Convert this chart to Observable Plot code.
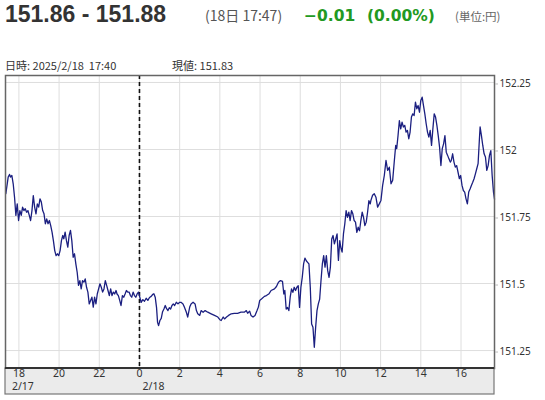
<!DOCTYPE html>
<html><head><meta charset="utf-8">
<script src="https://cdn.jsdelivr.net/npm/d3@7"></script>
<script src="https://cdn.jsdelivr.net/npm/@observablehq/plot@0.6"></script>
<style>
body{margin:0;background:#fff;}
#wrap{width:545px;height:400px;overflow:hidden;}
#head{display:block;}
#chart svg{display:block;}
</style>
</head><body>
<div id="wrap">
<svg id="head" width="545" height="72" xmlns="http://www.w3.org/2000/svg">
  <text x="5" y="21.5" font-family="Liberation Sans" font-weight="bold" font-size="23" fill="#333">151.86 - 151.88</text>
  <text x="205" y="21" font-family="Noto Sans CJK JP" font-size="14" fill="#555">(18日 17:47)</text>
  <text x="304" y="21" font-family="DejaVu Sans" font-weight="bold" font-size="15.5" fill="#229922">−0.01</text>
  <text x="367" y="21" font-family="DejaVu Sans" font-weight="bold" font-size="15.5" fill="#229922">(0.00%)</text>
  <text x="455" y="21" font-family="Noto Sans CJK JP" font-size="11.5" fill="#666">(単位:円)</text>
  <text x="5" y="70" font-family="Noto Sans CJK JP" font-size="11" fill="#333" style="white-space:pre">日時: 2025/2/18  17:40</text>
  <text x="172" y="70" font-family="Noto Sans CJK JP" font-size="11" fill="#333">現値: 151.83</text>
</svg>
<div id="chart"></div>
</div>
<script>
// minutes relative to 2025/2/18 00:00 (negative = 2/17)
const minutes = [
-399,-392,-388,-385,-381,-377,-373,-369,-365,-361,-357,-353,-349,-345,-341,-337,-333,-329,-325,-321,
-317,-313,-309,-305,-301,-297,-293,-289,-285,-281,-277,-273,-269,-265,-261,-257,-253,-249,-245,-241,
-237,-233,-229,-226,-222,-218,-214,-210,-206,-202,-198,-194,-190,-186,-182,-178,-174,-170,-166,-162,
-158,-154,-150,-146,-142,-138,-134,-130,-126,-122,-118,-114,-110,-106,-102,-98,-94,-90,-86,-82,
-78,-74,-70,-67,-63,-59,-55,-51,-47,-43,-39,-35,-31,-27,-23,-19,-15,-11,-7,-3,
1,5,10,15,20,25,30,35,40,43,47,51,54,57,61,65,69,73,77,81,
85,89,93,97,101,105,110,115,120,124,130,134,140,144,150,154,160,166,170,174,
180,184,190,196,204,214,224,234,240,244,250,254,260,266,274,283,293,303,313,319,
323,329,333,339,345,351,355,359,365,373,379,387,393,403,409,415,421,427,431,434,
438,442,446,450,454,458,462,466,470,474,478,482,486,490,494,498,502,506,510,514,
518,522,526,530,534,538,542,546,550,554,558,562,566,570,574,578,582,586,590,594,
598,601,605,609,613,617,621,625,629,633,637,641,645,649,653,657,661,665,669,673,
677,681,685,689,691,696,701,706,711,716,721,726,731,736,741,746,751,756,761,765,
768,772,776,780,784,788,792,796,800,804,808,812,816,820,824,828,832,836,840,844,
848,852,856,860,864,868,872,876,880,884,888,892,896,900,904,908,912,916,920,924,
928,931,935,939,943,947,951,955,959,963,967,971,975,979,983,987,991,995,999,1003,
1007,1011,1015,1017,1021,1025,1029,1033,1037,1041,1045,1049,1053,1057,1060
];
const prices = [
151.835,151.897,151.907,151.897,151.903,151.872,151.822,151.754,151.797,151.735,151.772,151.754,151.785,151.772,151.779,151.766,151.772,151.754,151.735,151.772,
151.828,151.785,151.760,151.797,151.785,151.816,151.804,151.772,151.760,151.723,151.741,151.723,151.735,151.716,151.692,151.660,151.623,151.604,151.611,151.604,
151.623,151.660,151.679,151.667,151.692,151.660,151.636,151.679,151.698,151.660,151.598,151.611,151.573,151.542,151.493,151.511,151.480,151.511,151.505,151.517,
151.486,151.468,151.424,151.437,151.449,151.412,151.449,151.424,151.461,151.480,151.499,151.486,151.468,151.480,151.511,151.493,151.474,151.455,151.480,151.455,
151.468,151.461,151.474,151.461,151.455,151.437,151.418,151.455,151.449,151.461,151.474,151.468,151.468,151.455,151.449,151.468,151.455,151.449,151.461,151.468,
151.449,151.430,151.440,151.434,151.445,151.437,151.448,151.452,151.460,151.462,151.449,151.410,151.355,151.343,151.362,151.370,151.395,151.405,151.418,151.406,
151.399,151.410,151.405,151.418,151.424,151.418,151.430,151.424,151.430,151.430,151.424,151.412,151.393,151.375,151.412,151.424,151.430,151.424,151.399,151.387,
151.381,151.399,151.393,151.399,151.393,151.387,151.381,151.375,151.365,151.362,151.375,151.368,151.375,151.381,151.387,151.389,151.389,151.393,151.393,151.399,
151.389,151.397,151.381,151.375,151.381,151.399,151.412,151.437,151.443,151.452,151.455,151.462,151.474,151.480,151.489,151.505,151.511,151.508,151.461,151.474,
151.405,151.411,151.399,151.449,151.480,151.467,151.486,151.474,151.486,151.492,151.411,151.486,151.523,151.573,151.595,151.585,151.579,151.573,151.486,151.349,
151.337,151.262,151.337,151.399,151.424,151.442,151.511,151.573,151.604,151.561,151.604,151.548,151.523,151.561,151.666,151.679,151.648,151.666,151.685,151.586,
151.660,151.635,151.617,151.685,151.722,151.772,151.747,151.766,151.735,151.772,151.760,151.735,151.729,151.691,151.710,151.697,151.735,151.766,151.747,151.716,
151.729,151.766,151.809,151.797,151.810,151.829,151.835,151.822,151.785,151.797,151.810,151.866,151.903,151.959,151.922,151.934,151.872,151.885,151.959,152.015,
152.003,152.052,152.108,152.077,152.102,152.084,152.090,152.065,152.071,152.040,152.065,152.121,152.133,152.127,152.177,152.152,152.164,152.139,152.183,152.195,
152.164,152.133,152.096,152.065,152.046,152.071,152.015,152.077,152.133,152.121,152.090,152.052,152.009,151.940,152.003,152.021,152.052,151.990,151.978,151.965,
151.953,151.959,151.984,151.953,151.934,151.940,151.916,151.891,151.903,151.866,151.847,151.841,151.816,151.797,151.841,151.853,151.866,151.878,151.891,151.909,
151.928,151.947,152.040,152.084,152.052,152.015,151.984,151.972,151.922,151.940,151.978,151.996,151.903,151.841,151.815
];
const yTicks = [151.25, 151.5, 151.75, 152, 152.25];
const xTickMinutes = [-360,-240,-120,0,120,240,360,480,600,720,840,960];
const xTickLabels = ["18","20","22","0","2","4","6","8","10","12","14","16"];
const dayMinutes = [-360, 0];
const dayLabels = ["2/17", "2/18"];

const base = Date.UTC(2025, 1, 18, 0, 0);
const toDate = m => new Date(base + m * 60000);
const data = minutes.map((m, i) => ({t: toDate(m), v: prices[i]}));
const xTicks = xTickMinutes.map((m, i) => ({t: toDate(m), label: xTickLabels[i]}));
const days = dayMinutes.map((m, i) => ({t: toDate(m), label: dayLabels[i]}));

function band(index, scales, values, dims) {
  const {width, height, marginLeft, marginRight, marginBottom} = dims;
  const g = d3.create("svg:g");
  const x0 = marginLeft, x1 = width - marginRight, y0 = height - marginBottom;
  g.append("rect").attr("x", x0).attr("y", y0).attr("width", x1 - x0).attr("height", 26)
    .attr("fill", "#ebebeb").attr("stroke", "#777").attr("stroke-width", 1.2);
  g.append("line").attr("x1", x0).attr("x2", x1).attr("y1", y0).attr("y2", y0)
    .attr("stroke", "#333").attr("stroke-width", 2);
  return g.node();
}

const chart = Plot.plot({
  width: 545, height: 328,
  marginTop: 3, marginLeft: 5, marginRight: 51, marginBottom: 32,
  x: {type: "utc", domain: [toDate(-400), toDate(1060)], axis: null},
  y: {domain: [151.183, 152.276], axis: null},
  style: {fontFamily: "Noto Sans", fontSize: "10px", color: "#333", background: "#fff", overflow: "visible"},
  marks: [
    Plot.gridY(yTicks, {stroke: "#dedede", strokeOpacity: 1}),
    Plot.gridX(xTicks.map(d => d.t), {stroke: "#dedede", strokeOpacity: 1}),
    Plot.ruleX([toDate(0)], {stroke: "#111", strokeDasharray: "4,3", strokeWidth: 1.6}),
    Plot.line(data, {x: "t", y: "v", stroke: "#1b1f80", strokeWidth: 1.3}),
    Plot.frame({stroke: "#666", strokeWidth: 1.5}),
    band,
    Plot.axisY(yTicks, {anchor: "right", label: null, tickSize: 3, tickPadding: 2, stroke: "#bbb", fill: "#333", dy: 1.5, tickFormat: d => String(d)}),
    Plot.text(xTicks, {x: "t", text: "label", frameAnchor: "bottom", dy: 8.5, fill: "#333", fontSize: 10.5}),
    Plot.text([days[0]], {x: "t", text: "label", frameAnchor: "bottom", dy: 21.5, dx: -7, textAnchor: "start", fill: "#333", fontSize: 10.5}),
    Plot.text([days[1]], {x: "t", text: "label", frameAnchor: "bottom", dy: 21.5, dx: 3, textAnchor: "start", fill: "#333", fontSize: 10.5})
  ]
});
document.getElementById("chart").appendChild(chart);
</script>
</body></html>
